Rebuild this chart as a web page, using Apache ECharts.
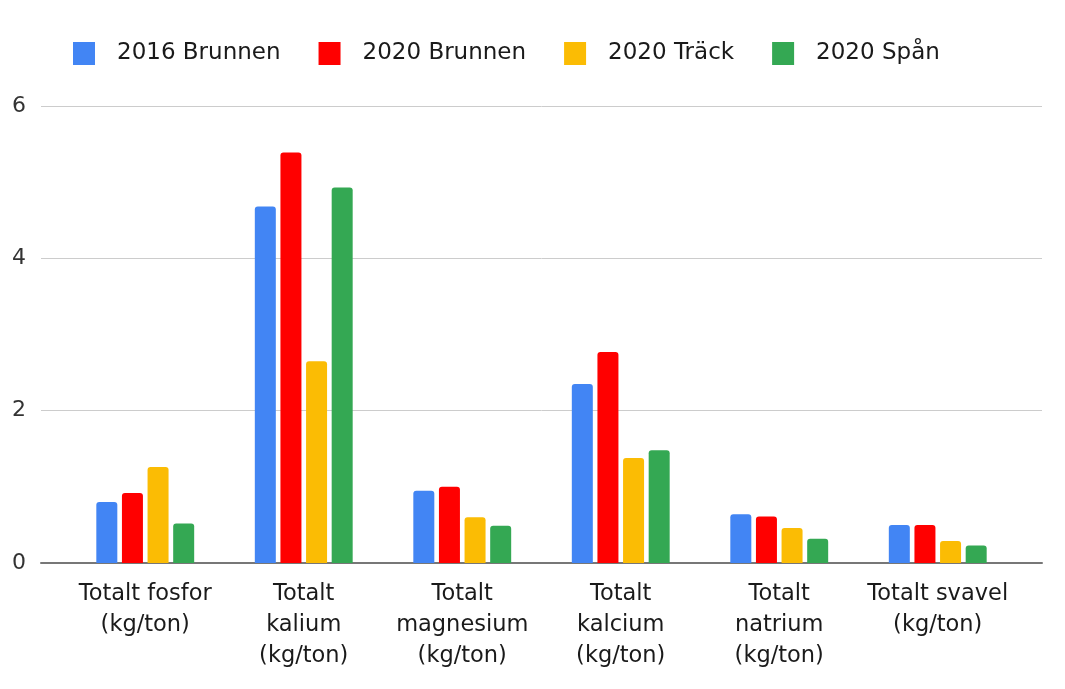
<!DOCTYPE html>
<html>
<head>
<meta charset="utf-8">
<script src="https://cdn.jsdelivr.net/npm/echarts@6/dist/echarts.min.js"></script>
<style>
  html, body { margin: 0; padding: 0; background: #ffffff; }
  #chart { width: 1065px; height: 689px; }
</style>
</head>
<body>
<div id="chart"></div>
<script>
// Näringsinnehåll per ton, fyra prover
const categories = [
  'Totalt fosfor\n(kg/ton)',
  'Totalt\nkalium\n(kg/ton)',
  'Totalt\nmagnesium\n(kg/ton)',
  'Totalt\nkalcium\n(kg/ton)',
  'Totalt\nnatrium\n(kg/ton)',
  'Totalt svavel\n(kg/ton)'
];
const seriesNames = ['2016 Brunnen', '2020 Brunnen', '2020 Träck', '2020 Spån'];
const brunnen2016 = [0.80, 4.68, 0.95, 2.35, 0.64, 0.50];
const brunnen2020 = [0.92, 5.39, 1.00, 2.77, 0.61, 0.50];
const track2020   = [1.26, 2.65, 0.60, 1.38, 0.46, 0.29];
const span2020    = [0.52, 4.93, 0.49, 1.48, 0.32, 0.23];
const yTicks = { min: 0, max: 6, interval: 2 };

const colors = ['#4285F4', '#FF0000', '#FBBC04', '#34A853'];
const values = [brunnen2016, brunnen2020, track2020, span2020];
const FONT = '"DejaVu Sans", sans-serif';

const chart = echarts.init(document.getElementById('chart'), null, { renderer: 'canvas' });

chart.setOption({
  animation: false,
  color: colors,
  legend: {
    data: seriesNames,
    left: 68,
    top: 37,
    itemWidth: 22,
    itemHeight: 23,
    itemGap: 38,
    icon: 'rect',
    itemStyle: { borderRadius: 2 },
    textStyle: { fontFamily: FONT, fontSize: 23, color: '#1a1a1a', padding: [0, 0, 0, 17] }
  },
  grid: [
    // wide grid: gridlines, value labels and baseline
    { left: 41, right: 23, top: 106, bottom: 126 },
    // inner grid: the bar groups
    { left: 66, right: 48, top: 106, bottom: 126 }
  ],
  xAxis: [
    {
      gridIndex: 0, type: 'value', min: 0, max: 1,
      axisLine: { show: true, onZero: true, lineStyle: { color: '#777', width: 2 } },
      axisTick: { show: false }, axisLabel: { show: false }, splitLine: { show: false }
    },
    {
      gridIndex: 1, type: 'category', data: categories,
      axisLine: { show: false }, axisTick: { show: false },
      axisLabel: {
        interval: 0, margin: 16, fontFamily: FONT, fontSize: 22.5,
        lineHeight: 31, color: '#1a1a1a', align: 'center'
      }
    }
  ],
  yAxis: [
    {
      gridIndex: 0, type: 'value', min: yTicks.min, max: yTicks.max, interval: yTicks.interval,
      axisLine: { show: false }, axisTick: { show: false },
      axisLabel: { margin: 15, fontFamily: FONT, fontSize: 22, color: '#333' },
      splitLine: { show: true, lineStyle: { color: '#cccccc', width: 1 } }
    },
    {
      gridIndex: 1, type: 'value', min: yTicks.min, max: yTicks.max, interval: yTicks.interval,
      axisLine: { show: false }, axisTick: { show: false },
      axisLabel: { show: false }, splitLine: { show: false }
    }
  ],
  series: seriesNames.map((name, i) => ({
    name: name,
    type: 'bar',
    xAxisIndex: 1,
    yAxisIndex: 1,
    data: values[i],
    barWidth: 21,
    barGap: '22%',
    itemStyle: { color: colors[i], borderRadius: [3, 3, 0, 0] }
  }))
});
</script>
</body>
</html>
